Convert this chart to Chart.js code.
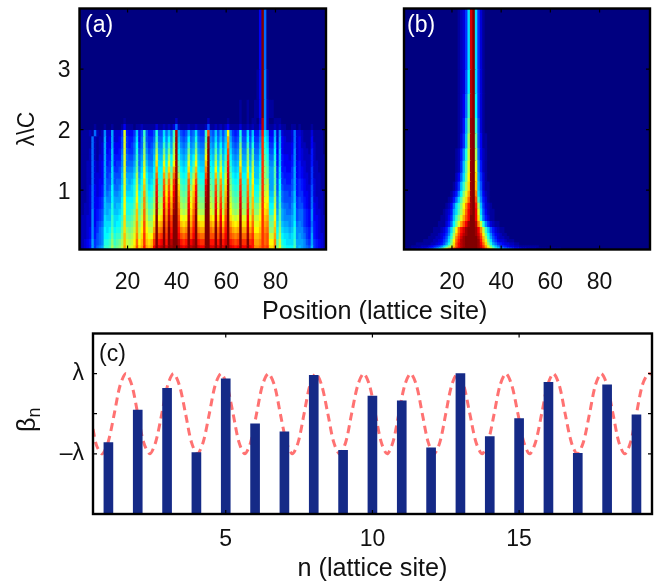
<!DOCTYPE html>
<html><head><meta charset="utf-8">
<script src="https://cdn.jsdelivr.net/npm/chart.js@4/dist/chart.umd.min.js"></script>
<style>
html,body{margin:0;padding:0;background:#fff;overflow:hidden}
#wrap{position:relative;width:655px;height:584px;font-family:"Liberation Sans",Arial,sans-serif;color:#111}
canvas{position:absolute}
.t{position:absolute;white-space:nowrap;line-height:1}
</style></head><body>
<div id="wrap">
<canvas id="ca" style="left:0;top:0"></canvas>
<canvas id="cb" style="left:335px;top:0"></canvas>
<canvas id="cc" style="left:0;top:325px"></canvas>
<div class="t" style="left:85px;top:13px;font-size:23px;color:#fff">(a)</div>
<div class="t" style="left:407px;top:13px;font-size:23px;color:#fff">(b)</div>
<div class="t" style="left:99px;top:342px;font-size:23px">(c)</div>
<div class="t" style="left:262px;top:298px;font-size:25.2px">Position (lattice site)</div>
<div class="t" id="beta" style="left:14px;top:402px;font-size:25px;transform-origin:0 0;transform:translate(0,30px) rotate(-90deg)">β<sub style="font-size:18px;vertical-align:-5px">n</sub></div>
</div>
<script>
// heat-map levels are base-36 digits (0 = darkest blue, z = darkest red); columns are lattice sites 1..100
const positions = Array.from({length:100},(_,i)=>String(i+1));
const xTickSites = ['20','40','60','80'];
const yTicksHeat = [1,2,3];
const bandEdgesA = [4,3,2.5,2.2,2.1,2,1.9,1.8,1.7,1.6,1.5,1.4,1.3,1.2,1.1,1,0.9,0.8,0.7,0.6,0.5,0.4,0.3,0.2,0.1,0.05,0];
const rowsA = [
"0000000000 0000000000 0000000000 0000000000 0000000000 0000000000 0000000000 0004z80000 0000000000 0000000000",
"0000000000 0000000000 0000000000 0000000000 0000000000 0000000000 0000000000 0014z91000 0000000000 0000000000",
"0000000000 0000000000 0000000000 0000000000 0000000000 0000000000 0000010010 0114z92110 0000000000 0000000000",
"0000000000 0000000010 0000000000 0000000002 0000000000 0020000000 1000010010 1103x92001 1100000000 0000000000",
"0000001000 1001000141 1101121111 1311212138 2111211211 1271121212 4111131121 2114x92112 1211001101 0000100000",
"1111218212 933a3336l5 446b57f755 7e77c8b8fx a767b78c76 6fs87b7a7a m9656e66c6 b558uca44a 3932223833 2111311110",
"1111182122 a34a3347l6 557c58g766 8f88d9d9gy b878d89e87 7gy98c8b8b pa767f77d7 c669tdb55b 3a43223834 2111411110",
"1111182123 a44a4447l6 568d68h867 9h99fafaiy c989f9ag98 8iya9e9d9c qb878h88f8 e77atec66c 4a43334834 2211421110",
"1111282123 a45b4458l7 668e79i978 ajaahbhbjy da9ahabia9 9kzbagafad sc989j99h9 g88btfd77d 4b43334934 3221521110",
"1111282133 a55b5559l8 779f8aja88 blbbjcjdky ebabjbdkba amzcbibhbf tda9akaaia h99ctge88e 5b54435934 3222521111",
"1112283234 a56b5669l8 88ag8bkb99 cnccldlemy gcbclcfmcb bozdckcjch uebabmbbjb jaadthf99f 5b54445945 3322522111",
"1112283234 a66c667al9 99bh9clcaa dpddnfngpy hdcdndhodc cqzedmdldi vfcbcocclc kbbetigaag 6c55446a45 4322622111",
"1112283334 a67c777bla aacjadmdbb ereephpiry jedepfjqed dszfeofnek wgdcdqddnd lbbftigaag 6c65556a45 4332622211",
"1112283344 a77c788blb abdjbenebc ftffrjrktz lfefrglsfe euzgfqgpfl xhedeseepe mccgtijaag 7d66557a56 5432632211",
"1112384345 a78d889clb bcekcfofcd guggslsluz ngfgsinugf fwzhgshqgn yifeftffqf nddhtjkaah 7d76667a56 5433732211",
"1112384345 a89d99aclc cceldgpgde hvhhtmtnvz ohghtkovhg gxzihtirho yjgfguggrg neeitklbbi 8e87768b56 6443732221",
"1112384456 b99daaadmd ddfmehqhef iwijunuowz pihiulpwih hyzjiujsip zkhghvhhsh offjtlmccj 9e87778b67 6543833221",
"1122384456 baaeabbeme eegnfiqifg jxjkvovpxz qjijvmqxji izzkjvktjq zlihiwiiti ohhktmnddk 9f98879c67 7543843221",
"1122394567 babebbceme efhogjrjgh kyklwpwqyz rkjkwnrykj jzzlkwlukr zmjijxjjuj piiltnoeel aga9889c78 8654943321",
"1223394567 cbbfccdfnf fgiohkrkhi mzmnxqxszz smlmxoszml lzznmxnvms znlklyllvl qkkmtopggm bga999ac78 8654944322",
"1223394678 cccfcddgng ghjpilsljj nzopyrytzz tonoyptzon nzzpoypwot zpnmnznnwn rllntpqhhn chbaa9ad89 8654854322",
"1223495689 dcdgdeehni hikpjmsmkk pzqrzszuzz uqpqzruzqp pzzrqzrxqu zrpopzppxp smmotqriio dicbbabe99 9765954322",
"1223495789 ddeheffioj ijlqkntnlm rzstztzvzz vsrszsvzsr rzzsszsysv zsrqrzrryr tooptrskkp ejdccbce9a 9865a54332",
"12345a6789 eefifghjok jkmrmotono tzuvzuzxzz xutuzvxzut tzzuuzuzuw zutstzttzt uppqtrsmmq gkedcccfaa a976a65432",
"12345a689a ffgjghikpl klnsnpupop vzwxzwzyzz ywvwzxyzwv vzzwwzwzwx zwvuvzvvzv uqqrtstnnr hlfedddgab a987b65432",
"123456789a bcdeghijkl mnopqrstuv wxyzzzzzzz zzzzzzzzzz zzzzzzzzzz zyyxxwwvvu uttsrqponm lkjihgfedc ba98765432"
];
const bandEdgesB = [4,3,2.6,2.2,1.95,1.7,1.5,1.3,1.15,1,0.9,0.8,0.7,0.6,0.5,0.4,0.3,0.25,0.2,0.15,0.1,0.06,0.03,0];
const rowsB = [
"0000000000 0000000000 001236cwzc 6310000000 0000000000 0000000000 0000000000 0000000000 0000000000 0000000000",
"0000000000 0000000000 001237dxzc 6310000000 0000000000 0000000000 0000000000 0000000000 0000000000 0000000000",
"0000000000 0000000000 001248fxzd 6310000000 0000000000 0000000000 0000000000 0000000000 0000000000 0000000000",
"0000000000 0000000000 00125ahyzf 7310000000 0000000000 0000000000 0000000000 0000000000 0000000000 0000000000",
"0000000000 0000000000 00136bjyzh 7411000000 0000000000 0000000000 0000000000 0000000000 0000000000 0000000000",
"0000000000 0000000000 01259ekyzj 8421000000 0000000000 0000000000 0000000000 0000000000 0000000000 0000000000",
"0000000000 0000000000 0126bglyzl 9521000000 0000000000 0000000000 0000000000 0000000000 0000000000 0000000000",
"0000000000 0000000000 0248chmyzn a631000000 0000000000 0000000000 0000000000 0000000000 0000000000 0000000000",
"0000000000 0000000000 136bfjnyzo b731100000 0000000000 0000000000 0000000000 0000000000 0000000000 0000000000",
"0000000000 0000000001 359dilpyzq c842100000 0000000000 0000000000 0000000000 0000000000 0000000000 0000000000",
"0000000000 0000000012 58cgknryzs f953100000 0000000000 0000000000 0000000000 0000000000 0000000000 0000000000",
"0000000000 0000000124 8cfimquyzu jb63210000 0000000000 0000000000 0000000000 0000000000 0000000000 0000000000",
"0000000000 0000001235 acgjnrvyzv lc74211000 0000000000 0000000000 0000000000 0000000000 0000000000 0000000000",
"0000000000 0000011246 bfilpsvzzv ne85311000 0000000000 0000000000 0000000000 0000000000 0000000000 0000000000",
"0000000000 0000111358 dhlpsvyzzx qke9632110 0000000000 0000000000 0000000000 0000000000 0000000000 0000000000",
"0000000000 001112358c hmruwyzzzy vqkfb75321 1000000000 0000000000 0000000000 0000000000 0000000000 0000000000",
"0000000000 011123469e josvxyzzzy wsmhd96432 1100000000 0000000000 0000000000 0000000000 0000000000 0000000000",
"0000000000 11122357bf kqtwyzzzzz xtojea7532 2110000000 0000000000 0000000000 0000000000 0000000000 0000000000",
"0000000011 112234 68ch mruxyzzzzz yuplgc8643 3211100000 0000000000 0000000000 0000000000 0000000000 0000000000",
"0000011111 122345 7aei nsvxyzzzzz yvrniea865 4332211000 0000000000 0000000000 0000000000 0000000000 0000000000",
"0001111222 345679cfil osvxyzzzzz ywtplheb97 6543322111 1111100000 0000000000 0000000000 0000000000 0000000000",
"1112233445 679bdgjmps uwxyzzzzzz yxurolifdb a987655433 2222111111 1111000000 0000000000 0000000000 0000000000",
"456789abcd efhiklnprt uvwxyzzzzz zywvutrpnl jihgfedcba 9877665544 4433333322 2222222222 1111111111 1111100000"
];
const sitesN = [1,2,3,4,5,6,7,8,9,10,11,12,13,14,15,16,17,18,19];
const betaValues = [-0.72,0.09,0.63,-0.97,0.87,-0.25,-0.45,0.96,-0.91,0.44,0.32,-0.85,1.0,-0.57,-0.12,0.78,-0.99,0.72,-0.03];
const curveX = [0.475,0.6,0.79,0.99,1.2,1.4,1.6,1.8,2.0,2.2,2.41,2.61,2.82,3.02,3.22,3.42,3.63,3.83,4.03,4.23,4.44,4.64,4.84,5.04,5.25,5.45,5.65,5.85,6.05,6.25,6.45,6.66,6.86,7.07,7.27,7.47,7.67,7.87,8.07,8.27,8.48,8.68,8.88,9.09,9.29,9.5,9.7,9.9,10.1,10.3,10.5,10.7,10.9,11.1,11.3,11.5,11.7,11.9,12.1,12.3,12.5,12.7,12.9,13.11,13.32,13.53,13.74,13.94,14.15,14.35,14.55,14.75,14.96,15.16,15.36,15.56,15.77,15.97,16.17,16.37,16.57,16.78,16.98,17.19,17.4,17.6,17.8,18.0,18.2,18.4,18.6,18.8,19.0,19.2,19.4,19.53];
const curveY = [-0.38,-0.8,-1,-0.71,0,0.71,1,0.71,0,-0.71,-1,-0.71,0,0.71,1,0.71,0,-0.71,-1,-0.71,0,0.71,1,0.71,0,-0.71,-1,-0.71,0,0.71,1,0.71,0,-0.71,-1,-0.71,0,0.71,1,0.71,0,-0.71,-1,-0.71,0,0.71,1,0.71,0,-0.71,-1,-0.71,0,0.71,1,0.71,0,-0.71,-1,-0.71,0,0.71,1,0.71,0,-0.71,-1,-0.71,0,0.71,1,0.71,0,-0.71,-1,-0.71,0,0.71,1,0.71,0,-0.71,-1,-0.71,0,0.71,1,0.71,0,-0.71,-1,-0.71,0,0.71,1,0.98];
const yTicksC = [-1,0,1];
const xTicksC = [5,10,15];

const FONT = '"Liberation Sans",Arial,sans-serif';
const TICK = {family:FONT,size:23};
const INK = '#111';
const noPad = s => { s.paddingTop=0; s.paddingBottom=0; s.paddingLeft=0; s.paddingRight=0; };
function jet(level){
  const t=level/35, c=v=>Math.round(255*Math.max(0,Math.min(1,v)));
  return `rgb(${c(1.5-Math.abs(4*t-3))},${c(1.5-Math.abs(4*t-2))},${c(1.5-Math.abs(4*t-1))})`;
}
const frame = {id:'frame',
 beforeDatasetsDraw(ch){
  if(ch.config.options.heatBack){const a=ch.chartArea,ctx=ch.ctx;ctx.save();ctx.fillStyle=ch.config.options.heatBack;ctx.fillRect(a.left,a.top,a.right-a.left,a.bottom-a.top);ctx.restore();}
 },
 afterDraw(ch){
  const {ctx,chartArea:a,scales:{x,y}}=ch; const tl=4;
  ctx.save();ctx.strokeStyle='#000';ctx.lineWidth=2.4;
  ctx.strokeRect(a.left,a.top,a.right-a.left,a.bottom-a.top);
  ctx.lineWidth=1.2;ctx.beginPath();
  x.ticks.forEach((t,i)=>{const p=x.getPixelForTick(i);ctx.moveTo(p,a.top);ctx.lineTo(p,a.top+tl);ctx.moveTo(p,a.bottom);ctx.lineTo(p,a.bottom-tl);});
  y.ticks.forEach((t,i)=>{const p=y.getPixelForTick(i);ctx.moveTo(a.left,p);ctx.lineTo(a.left+tl,p);ctx.moveTo(a.right,p);ctx.lineTo(a.right-tl,p);});
  ctx.stroke();ctx.restore();
}};
function heat(id,w,h,rows,edges,left,right,showY){
  const cv=document.getElementById(id);cv.width=w;cv.height=h;cv.style.width=w+'px';cv.style.height=h+'px';
  const datasets=rows.map((s,i)=>{
    const d=s.replace(/ /g,'');
    return {data:positions.map(()=>[edges[i+1],edges[i]]),
      backgroundColor:positions.map((_,k)=>jet(parseInt(d[k]||'0',36))),
      borderWidth:0,barPercentage:1,categoryPercentage:1,grouped:false,inflateAmount:0.5};
  });
  return new Chart(cv,{type:'bar',data:{labels:positions,datasets},plugins:[frame],options:{
    responsive:false,animation:false,devicePixelRatio:1,heatBack:'#00008a',
    layout:{autoPadding:false,padding:{top:8.5,right:w-right,left:0,bottom:0}},
    plugins:{legend:{display:false},tooltip:{enabled:false}},
    scales:{
      x:{type:'category',offset:true,grid:{display:false,drawTicks:false},border:{display:false},
        afterBuildTicks:s=>{s.ticks=s.ticks.filter(t=>xTickSites.includes(positions[t.value]));},
        afterFit:s=>{s.height=h-249.5;noPad(s);},
        ticks:{autoSkip:false,maxRotation:0,font:TICK,color:INK,padding:19}},
      y:{type:'linear',min:0.02,max:4,grid:{display:false,drawTicks:false},border:{display:false},
        afterBuildTicks:s=>{s.ticks=yTicksHeat.map(v=>({value:v}));},
        afterFit:s=>{s.width=left;noPad(s);},
        ticks:{display:showY,font:TICK,color:INK,padding:9,labelOffset:2},
        title:{display:showY,text:'λ\\C',font:{family:FONT,size:23},color:INK,padding:{top:14,bottom:0}}}
    }}});
}
heat('ca',335,300,rowsA,bandEdgesA,79.5,326,true);
heat('cb',320,300,rowsB,bandEdgesB,69,315,false);

const cc=document.getElementById('cc');cc.width=655;cc.height=259;cc.style.width='655px';cc.style.height='259px';
new Chart(cc,{type:'bar',data:{datasets:[
  {type:'line',data:curveX.map((x,i)=>({x,y:curveY[i]})),borderColor:'#ff7272',borderWidth:3,borderDash:[8,5],pointRadius:0,tension:0.3,order:2},
  {type:'bar',data:sitesN.map((x,i)=>({x,y:betaValues[i]})),backgroundColor:'#152a87',borderWidth:0,barThickness:9,base:-2.5,order:1}
]},plugins:[frame],options:{
  responsive:false,animation:false,devicePixelRatio:1,
  layout:{autoPadding:false,padding:{top:8.5,right:3,left:0,bottom:0}},
  plugins:{legend:{display:false},tooltip:{enabled:false}},
  scales:{
    x:{type:'linear',min:0.475,max:19.53,offset:false,grid:{display:false,drawTicks:false},border:{display:false},
      afterBuildTicks:s=>{s.ticks=xTicksC.map(v=>({value:v}));},
      afterFit:s=>{s.height=259-189;noPad(s);},
      ticks:{font:TICK,color:INK,padding:12,maxRotation:0,callback:v=>String(v)},
      title:{display:true,text:'n (lattice site)',font:{family:FONT,size:25.2},color:INK,padding:{top:0,bottom:0}}},
    y:{type:'linear',min:-2.5,max:2,grid:{display:false,drawTicks:false},border:{display:false},
      afterBuildTicks:s=>{s.ticks=yTicksC.map(v=>({value:v}));},
      afterFit:s=>{s.width=93;noPad(s);},
      ticks:{font:TICK,color:INK,padding:9,callback:v=>v===1?'λ':v===-1?'–λ':''}}
  }}});
</script>
</body></html>
